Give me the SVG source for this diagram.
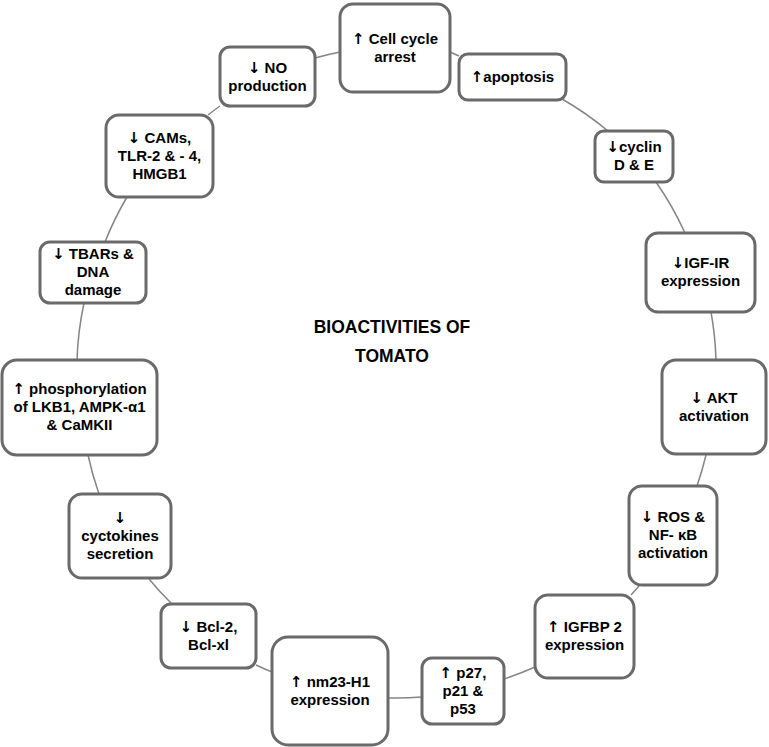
<svg xmlns="http://www.w3.org/2000/svg" width="769" height="747" viewBox="0 0 769 747">
<style>
.box{fill:#fff;stroke:#6a6a6a;stroke-width:3}
.lbl{font-family:"Liberation Sans",Arial,sans-serif;font-weight:bold;font-size:15px;fill:#000;text-anchor:middle}
.ar{font-family:"DejaVu Sans",sans-serif;font-weight:bold;font-size:15px;fill:#000}
.title{font-family:"Liberation Sans",Arial,sans-serif;font-weight:bold;font-size:17.5px;fill:#000;text-anchor:middle}
.con{fill:none;stroke:#858585;stroke-width:1.5}
</style>
<rect width="769" height="747" fill="#fff"/>
<g id="connectors">
<path class="con" d="M315,58 A322,322 0 0 1 340,52"/>
<path class="con" d="M450,52 A322,322 0 0 1 459,56"/>
<path class="con" d="M562,99 A322,322 0 0 1 608,131"/>
<path class="con" d="M656,182 A322,322 0 0 1 685,233"/>
<path class="con" d="M711,312 A322,322 0 0 1 716,360"/>
<path class="con" d="M706,455 A322,322 0 0 1 697,486"/>
<path class="con" d="M639,586 A322,322 0 0 1 631,595"/>
<path class="con" d="M535,667 A322,322 0 0 1 504,679"/>
<path class="con" d="M422,697 A322,322 0 0 1 388,698"/>
<path class="con" d="M272,672 A322,322 0 0 1 256,665"/>
<path class="con" d="M171,603 A322,322 0 0 1 149,579"/>
<path class="con" d="M99,494 A322,322 0 0 1 88,455"/>
<path class="con" d="M77,360 A322,322 0 0 1 84,303"/>
<path class="con" d="M105,242 A322,322 0 0 1 127,197"/>
<path class="con" d="M208,115 A322,322 0 0 1 220,106"/>
</g>
<g id="title">
<text class="title" x="392" y="333">BIOACTIVITIES OF</text>
<text class="title" x="392" y="362">TOMATO</text>
</g>
<g id="cellcycle">
<rect class="box" x="340" y="4" width="110" height="88" rx="13"/>
<text class="lbl" x="395" y="44"><tspan class="ar">↑</tspan> Cell cycle</text>
<text class="lbl" x="395" y="62">arrest</text>
</g>
<g id="apoptosis">
<rect class="box" x="459" y="54" width="107" height="46" rx="9"/>
<text class="lbl" x="512.5" y="82"><tspan class="ar">↑</tspan>apoptosis</text>
</g>
<g id="cyclin">
<rect class="box" x="595" y="131" width="78" height="51" rx="9"/>
<text class="lbl" x="634" y="152"><tspan class="ar">↓</tspan>cyclin</text>
<text class="lbl" x="634" y="170">D &amp; E</text>
</g>
<g id="igfir">
<rect class="box" x="646" y="233" width="109" height="79" rx="12"/>
<text class="lbl" x="700.5" y="268"><tspan class="ar">↓</tspan>IGF-IR</text>
<text class="lbl" x="700.5" y="286">expression</text>
</g>
<g id="akt">
<rect class="box" x="662" y="360" width="104" height="94" rx="14"/>
<text class="lbl" x="714" y="403"><tspan class="ar">↓</tspan> AKT</text>
<text class="lbl" x="714" y="421">activation</text>
</g>
<g id="ros">
<rect class="box" x="629" y="486" width="88" height="99" rx="13"/>
<text class="lbl" x="673" y="522"><tspan class="ar">↓</tspan> ROS &amp;</text>
<text class="lbl" x="673" y="540">NF- κB</text>
<text class="lbl" x="673" y="558">activation</text>
</g>
<g id="igfbp">
<rect class="box" x="535" y="595" width="99" height="83" rx="13"/>
<text class="lbl" x="584.5" y="632"><tspan class="ar">↑</tspan> IGFBP 2</text>
<text class="lbl" x="584.5" y="650">expression</text>
</g>
<g id="p27">
<rect class="box" x="422" y="658" width="82" height="66" rx="10"/>
<text class="lbl" x="463" y="678"><tspan class="ar">↑</tspan> p27,</text>
<text class="lbl" x="463" y="696">p21 &amp;</text>
<text class="lbl" x="463" y="714">p53</text>
</g>
<g id="nm23">
<rect class="box" x="272" y="637" width="116" height="108" rx="16"/>
<text class="lbl" x="330" y="687"><tspan class="ar">↑</tspan> nm23-H1</text>
<text class="lbl" x="330" y="705">expression</text>
</g>
<g id="bcl">
<rect class="box" x="161" y="604" width="95" height="64" rx="10"/>
<text class="lbl" x="208.5" y="632"><tspan class="ar">↓</tspan> Bcl-2,</text>
<text class="lbl" x="208.5" y="650">Bcl-xl</text>
</g>
<g id="cytokines">
<rect class="box" x="69" y="494" width="102" height="84" rx="13"/>
<text class="lbl" x="120" y="523"><tspan class="ar">↓</tspan></text>
<text class="lbl" x="120" y="541">cyctokines</text>
<text class="lbl" x="120" y="559">secretion</text>
</g>
<g id="phosphorylation">
<rect class="box" x="2" y="360" width="155" height="95" rx="15"/>
<text class="lbl" x="79.5" y="394"><tspan class="ar">↑</tspan> phosphorylation</text>
<text class="lbl" x="79.5" y="412">of LKB1, AMPK-α1</text>
<text class="lbl" x="79.5" y="430">&amp; CaMKII</text>
</g>
<g id="tbars">
<rect class="box" x="40" y="242" width="106" height="61" rx="10"/>
<text class="lbl" x="93" y="259"><tspan class="ar">↓</tspan> TBARs &amp;</text>
<text class="lbl" x="93" y="277">DNA</text>
<text class="lbl" x="93" y="295">damage</text>
</g>
<g id="cams">
<rect class="box" x="106" y="115" width="107" height="82" rx="13"/>
<text class="lbl" x="159.5" y="143"><tspan class="ar">↓</tspan> CAMs,</text>
<text class="lbl" x="159.5" y="161">TLR-2 &amp; - 4,</text>
<text class="lbl" x="159.5" y="179">HMGB1</text>
</g>
<g id="noproduction">
<rect class="box" x="220" y="47" width="95" height="59" rx="10"/>
<text class="lbl" x="267.5" y="72.5"><tspan class="ar">↓</tspan> NO</text>
<text class="lbl" x="267.5" y="90.5">production</text>
</g>
</svg>
